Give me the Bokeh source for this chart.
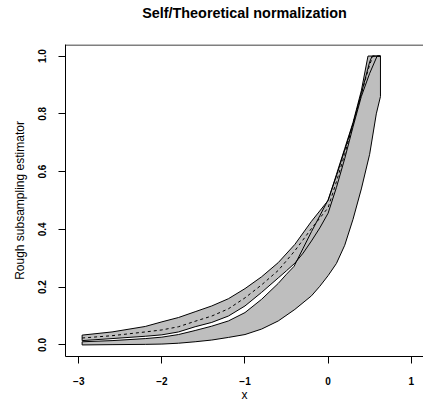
from bokeh.plotting import figure
from bokeh.models import Range1d, LinearAxis, FixedTicker
from bokeh.embed import file_html
from bokeh.resources import INLINE

FONT = "Liberation Sans"

title_text = "Self/Theoretical normalization"
x_label = "x"
y_label = "Rough subsampling estimator"

x_ticks = [-3, -2, -1, 0, 1]
x_tick_labels = ["\u22123", "\u22122", "\u22121", "0", "1"]
y_ticks = [0.0, 0.2, 0.4, 0.6, 0.8, 1.0]
y_tick_labels = ["0.0", "0.2", "0.4", "0.6", "0.8", "1.0"]

# Upper (narrow) band: upper edge, centre (dashed) and lower edge
a_hi_x = [-2.96, -2.6, -2.2, -2.0, -1.8, -1.6, -1.4, -1.2, -1.0, -0.8, -0.6, -0.4, -0.2, 0.0, 0.1, 0.2, 0.3, 0.4, 0.48, 0.63]
a_hi_y = [0.034, 0.045, 0.064, 0.080, 0.095, 0.115, 0.135, 0.160, 0.195, 0.236, 0.285, 0.348, 0.428, 0.500, 0.590, 0.680, 0.770, 0.880, 1.0, 1.0]

a_mid_x = [-2.96, -2.6, -2.2, -2.0, -1.8, -1.6, -1.4, -1.2, -1.0, -0.8, -0.6, -0.4, -0.2, 0.0, 0.1, 0.2, 0.3, 0.4, 0.5, 0.54, 0.63]
a_mid_y = [0.024, 0.032, 0.045, 0.052, 0.063, 0.082, 0.100, 0.125, 0.163, 0.208, 0.258, 0.326, 0.403, 0.475, 0.565, 0.660, 0.765, 0.870, 0.970, 1.0, 1.0]

a_lo_x = [-2.96, -2.6, -2.2, -2.0, -1.8, -1.6, -1.4, -1.2, -1.0, -0.8, -0.6, -0.5, -0.4, -0.3, -0.2, -0.1, 0.0, 0.1, 0.2, 0.3, 0.4, 0.5, 0.59, 0.63]
a_lo_y = [0.015, 0.022, 0.030, 0.035, 0.045, 0.063, 0.078, 0.100, 0.135, 0.182, 0.232, 0.257, 0.283, 0.318, 0.360, 0.405, 0.456, 0.545, 0.645, 0.755, 0.860, 0.940, 1.0, 1.0]

# Lower (wide) band: upper and lower edges
b_hi_x = [-2.96, -2.6, -2.2, -2.0, -1.8, -1.6, -1.4, -1.2, -1.0, -0.8, -0.6, -0.5, -0.41, -0.3, -0.2, -0.1, 0.0, 0.1, 0.2, 0.3, 0.4, 0.5, 0.53, 0.63]
b_hi_y = [0.011, 0.015, 0.022, 0.027, 0.036, 0.050, 0.065, 0.083, 0.112, 0.158, 0.213, 0.245, 0.272, 0.335, 0.392, 0.447, 0.502, 0.585, 0.675, 0.765, 0.870, 0.980, 1.0, 1.0]

b_lo_x = [-2.96, -2.6, -2.2, -2.0, -1.8, -1.6, -1.4, -1.2, -1.0, -0.8, -0.6, -0.4, -0.2, -0.1, 0.0, 0.1, 0.2, 0.3, 0.4, 0.5, 0.58, 0.63]
b_lo_y = [0.0, 0.001, 0.002, 0.003, 0.006, 0.011, 0.017, 0.026, 0.036, 0.055, 0.083, 0.123, 0.170, 0.203, 0.240, 0.282, 0.345, 0.435, 0.540, 0.660, 0.800, 0.860]

X_START, X_END = -3.16, 1.148
Y_START, Y_END = -0.04, 1.04
FRAME_H = 312  # pixel height of the plotting region
p = figure(width=423, height=417, output_backend="svg", toolbar_location=None,
           x_range=Range1d(X_START, X_END), y_range=Range1d(Y_START, Y_END),
           x_axis_type=None, y_axis_type=None,
           min_border_left=65, min_border_right=0, min_border_top=44, min_border_bottom=61)
p.outline_line_color = None
p.grid.visible = False
p.background_fill_color = "white"
p.border_fill_color = "white"

def style_axis(ax):
    ax.axis_line_color = "black"
    ax.axis_line_width = 1
    ax.major_tick_line_color = "black"
    ax.major_tick_out = 7
    ax.major_tick_in = 0
    ax.minor_tick_line_color = None
    ax.major_label_text_font = FONT
    ax.major_label_text_font_size = "10px"
    ax.major_label_text_font_style = "bold"
    ax.major_label_text_color = "black"
    ax.axis_label_text_font = FONT
    ax.axis_label_text_font_size = "12px"
    ax.axis_label_text_font_style = "normal"
    ax.axis_label_text_color = "black"

xaxis = LinearAxis(ticker=FixedTicker(ticks=x_ticks),
                   major_label_overrides=dict(zip(x_ticks, x_tick_labels)),
                   axis_label=x_label)
style_axis(xaxis)
xaxis.major_label_standoff = 13
xaxis.axis_label_standoff = 0
p.add_layout(xaxis, "below")

yaxis = LinearAxis(ticker=FixedTicker(ticks=y_ticks),
                   major_label_overrides=dict(zip(y_ticks, y_tick_labels)),
                   axis_label=y_label)
style_axis(yaxis)
yaxis.major_label_orientation = "vertical"
yaxis.major_label_standoff = 12
yaxis.axis_label_standoff = 9
p.add_layout(yaxis, "left")

# the main title, carried as the label of an empty axis above the box
top = LinearAxis(ticker=FixedTicker(ticks=x_ticks),
                 major_label_overrides={t: "" for t in x_ticks},
                 major_tick_line_color=None, major_tick_out=0, major_tick_in=0,
                 minor_tick_line_color=None, major_label_standoff=0,
                 axis_line_color=None,
                 axis_label=title_text, axis_label_text_font=FONT,
                 axis_label_text_font_size="14.4px", axis_label_text_font_style="bold",
                 axis_label_text_color="black", axis_label_standoff=24)
p.add_layout(top, "above")

# top side of the box (one pixel thick, just inside the plotting region)
px = (Y_END - Y_START) / FRAME_H
p.quad(left=[X_START], right=[X_END], top=[Y_END], bottom=[Y_END - px],
       fill_color="black", line_color=None)

GRAY = "#BEBEBE"
a_poly_x = a_hi_x + a_lo_x[::-1]
a_poly_y = a_hi_y + a_lo_y[::-1]
b_poly_x = b_hi_x + b_lo_x[::-1]
b_poly_y = b_hi_y + b_lo_y[::-1]

for xs, ys in [(a_poly_x, a_poly_y), (b_poly_x, b_poly_y)]:
    p.patch(xs, ys, fill_color=GRAY, line_color=None)
for xs, ys in [(a_poly_x, a_poly_y), (b_poly_x, b_poly_y)]:
    p.patch(xs + xs[:1], ys + ys[:1], fill_color=None, line_color="black", line_width=1)

p.line(a_mid_x, a_mid_y, line_color="black", line_width=1, line_dash="3 3")

open("out.html", "w").write(file_html(p, INLINE))
